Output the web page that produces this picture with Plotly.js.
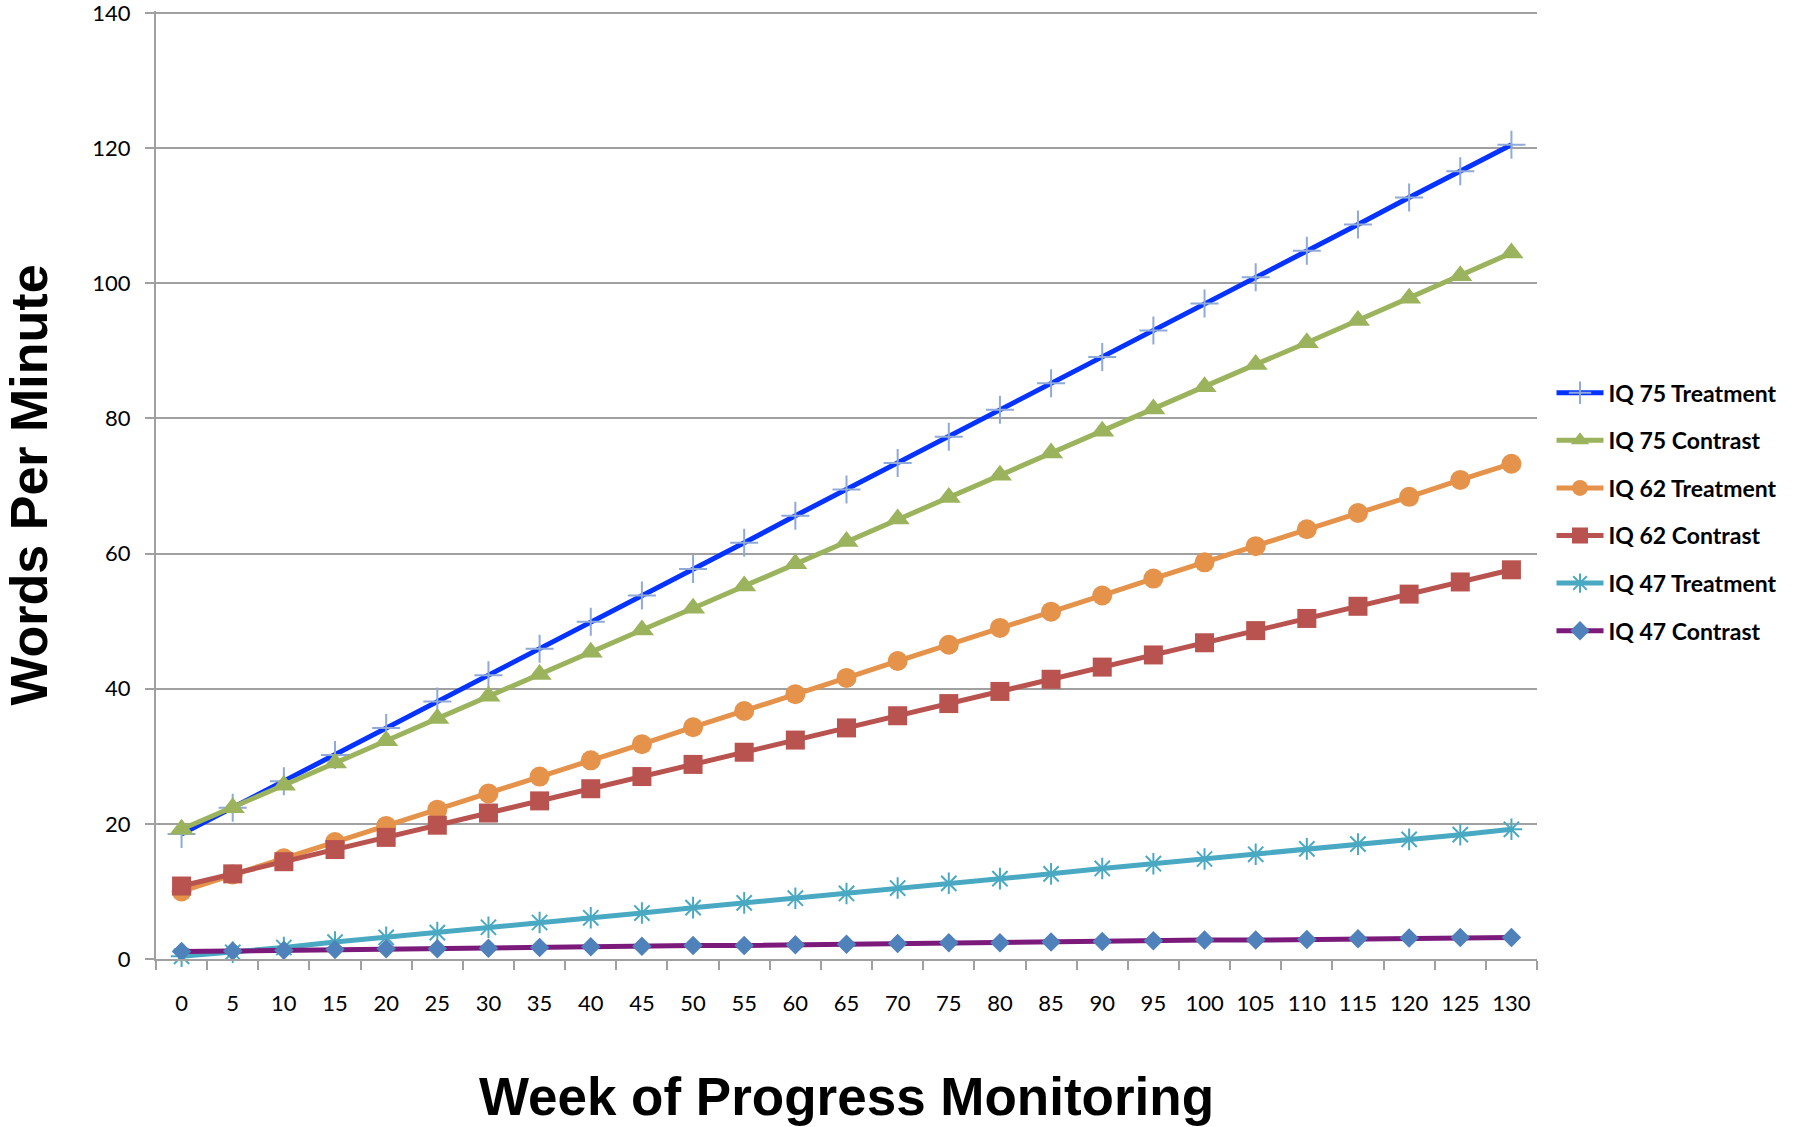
<!DOCTYPE html>
<html>
<head>
<meta charset="utf-8">
<script src="https://cdn.plot.ly/plotly-3.0.1.min.js"></script>
<style>
  html, body { margin: 0; padding: 0; background: #ffffff; }
  #chart { width: 1796px; height: 1127px; }
</style>
</head>
<body>
<div id="chart"></div>
<script>
// ---- data ----
const weeks = ['0','5','10','15','20','25','30','35','40','45','50','55','60','65','70','75','80','85','90','95','100','105','110','115','120','125','130'];

const iq75Treatment = [18.5, 22.4, 26.3, 30.2, 34.2, 38.1, 42.0, 45.9, 49.9, 53.8, 57.7, 61.6, 65.6, 69.5, 73.4, 77.3, 81.3, 85.2, 89.1, 93.0, 97.0, 100.9, 104.8, 108.7, 112.7, 116.6, 120.5];
const iq75Contrast  = [19.2, 22.4, 25.7, 29.0, 32.3, 35.6, 38.9, 42.1, 45.4, 48.7, 51.9, 55.2, 58.5, 61.8, 65.1, 68.3, 71.6, 74.9, 78.1, 81.4, 84.7, 88.0, 91.2, 94.5, 97.8, 101.1, 104.5];
const iq62Treatment = [10.0, 12.5, 14.9, 17.3, 19.7, 22.1, 24.5, 27.0, 29.4, 31.8, 34.3, 36.7, 39.2, 41.6, 44.1, 46.5, 49.0, 51.4, 53.8, 56.3, 58.7, 61.1, 63.6, 66.0, 68.4, 70.9, 73.3];
const iq62Contrast  = [10.8, 12.6, 14.4, 16.2, 18.0, 19.8, 21.6, 23.4, 25.2, 27.0, 28.8, 30.6, 32.4, 34.2, 36.0, 37.8, 39.6, 41.4, 43.2, 45.0, 46.8, 48.6, 50.4, 52.2, 54.0, 55.8, 57.6];
const iq47Treatment = [0.4, 1.0, 1.7, 2.5, 3.2, 3.9, 4.7, 5.4, 6.1, 6.8, 7.6, 8.3, 9.0, 9.7, 10.5, 11.2, 11.9, 12.6, 13.4, 14.1, 14.8, 15.5, 16.3, 17.0, 17.7, 18.4, 19.2];
const iq47Contrast  = [1.1, 1.2, 1.3, 1.4, 1.5, 1.5, 1.6, 1.7, 1.8, 1.9, 2.0, 2.0, 2.1, 2.2, 2.3, 2.4, 2.4, 2.5, 2.6, 2.7, 2.8, 2.8, 2.9, 3.0, 3.1, 3.2, 3.2];

const seriesNames = ['IQ 75 Treatment', 'IQ 75 Contrast', 'IQ 62 Treatment', 'IQ 62 Contrast', 'IQ 47 Treatment', 'IQ 47 Contrast'];
const yTicks = [0, 20, 40, 60, 80, 100, 120, 140];

const xTitle = 'Week of Progress Monitoring';
const yTitle = 'Words Per Minute';

// ---- styles ----
const styles = [
  {line: '#0433ff', marker: {symbol: 'cross-thin-open', size: 20, color: '#8fa9d9', line: {color: '#8fa9d9', width: 2}}},
  {line: '#9bb35c', marker: {symbol: 'triangle-up', size: 21, color: '#9bb35c'}},
  {line: '#e5924b', marker: {symbol: 'circle', size: 20, color: '#e5924b'}},
  {line: '#b9534f', marker: {symbol: 'square', size: 19, color: '#b9534f'}},
  {line: '#4aa9c2', marker: {symbol: 'asterisk-open', size: 18, color: '#4aa9c2', line: {color: '#4aa9c2', width: 2}}},
  {line: '#7b1a7b', marker: {symbol: 'diamond', size: 15, color: '#4f81bb'}}
];

const seriesValues = [iq75Treatment, iq75Contrast, iq62Treatment, iq62Contrast, iq47Treatment, iq47Contrast];

const traces = seriesValues.map((vals, i) => ({
  type: 'scatter',
  mode: 'lines+markers',
  x: weeks,
  y: vals,
  name: seriesNames[i],
  legendgroup: 'g' + i,
  line: {color: styles[i].line, width: 5},
  marker: styles[i].marker,
  cliponaxis: false
}));

const gridColor = '#a0a0a0';

const layout = {
  width: 1796,
  height: 1127,
  paper_bgcolor: '#ffffff',
  plot_bgcolor: '#ffffff',
  margin: {l: 156, r: 259, t: 11, b: 168},
  font: {family: 'Lato, "Open Sans", sans-serif', color: '#000000', size: 22},
  showlegend: true,
  legend: {
    x: 1.0105, xanchor: 'left',
    y: 0.620, yanchor: 'top',
    traceorder: 'grouped',
    tracegroupgap: 14.7,
    itemwidth: 47,
    font: {family: 'Lato, sans-serif', size: 23, color: '#000000', weight: 'bold'},
    bgcolor: 'rgba(0,0,0,0)',
    borderwidth: 0
  },
  xaxis: {
    type: 'category',
    range: [-0.5, 26.5],
    autorange: false,
    tickson: 'boundaries',
    ticks: 'outside',
    ticklen: 9,
    tickwidth: 2,
    tickcolor: gridColor,
    tickangle: 0,
    showline: true,
    linecolor: gridColor,
    linewidth: 2,
    showgrid: false,
    zeroline: false,
    ticklabelstandoff: 24,
    tickfont: {family: 'Lato, sans-serif', size: 22, color: '#000000'},
    title: {
      text: xTitle,
      font: {family: '"Liberation Sans", Arial, sans-serif', size: 53, color: '#000000', weight: 'bold'},
      standoff: 62
    },
    automargin: false,
    fixedrange: true
  },
  yaxis: {
    range: [0, 140.3],
    autorange: false,
    tickvals: yTicks,
    ticks: 'outside',
    ticklen: 9,
    tickwidth: 2,
    tickcolor: gridColor,
    ticklabeloverflow: 'allow',
    showline: true,
    linecolor: gridColor,
    linewidth: 2,
    showgrid: true,
    gridcolor: gridColor,
    gridwidth: 2,
    zeroline: false,
    ticklabelstandoff: 10,
    tickfont: {family: 'Lato, sans-serif', size: 22, color: '#000000'},
    title: {
      text: yTitle,
      font: {family: '"Liberation Sans", Arial, sans-serif', size: 52, color: '#000000', weight: 'bold'},
      standoff: 34
    },
    automargin: false,
    fixedrange: true
  }
};

Plotly.newPlot('chart', traces, layout, {displayModeBar: false, staticPlot: true});
</script>
</body>
</html>
